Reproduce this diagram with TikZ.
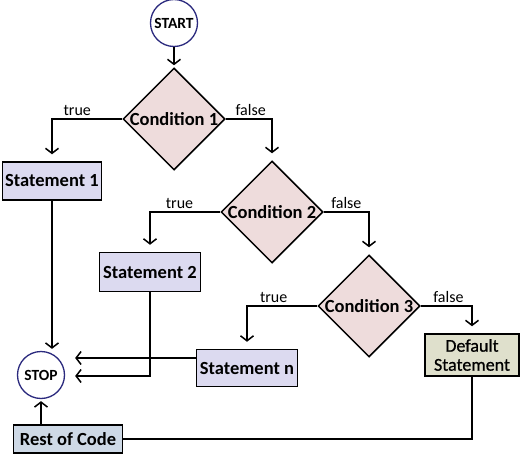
\documentclass[tikz,border=0pt]{standalone}
\usepackage{fontspec}
\setmainfont{Carlito}
\usepackage{tikz}
\usetikzlibrary{arrows.meta}
\usetikzlibrary{shapes.geometric}
\definecolor{startnavy}{RGB}{43, 42, 126}
\definecolor{condpink}{RGB}{238, 220, 220}
\definecolor{stmtlilac}{RGB}{220, 218, 240}
\definecolor{defaultkhaki}{RGB}{223, 224, 204}
\definecolor{restblue}{RGB}{206, 217, 230}

\tikzset{
    flowline/.style={line width=1.5pt, black},
    flowarrow/.style={flowline, -{Straight Barb[length=5pt, width=13pt, line width=1.5pt]}, shorten >=2pt},
    branch/.style={flowarrow, shorten >=7pt},
    terminal/.style={circle, draw=startnavy, line width=1.3pt, fill=white, minimum size=47pt,
                     inner sep=0pt, font=\bfseries\fontsize{15.5}{17}\selectfont},
    condition/.style={diamond, draw, line width=1.5pt, fill=condpink, minimum width=102pt,
                      minimum height=102pt, inner sep=0pt, font=\bfseries\fontsize{18.5}{21}\selectfont},
    stmtbox/.style={rectangle, draw, line width=1.5pt, fill=stmtlilac, inner sep=0pt,
                    font=\bfseries\fontsize{18.5}{21}\selectfont},
    branchlabel/.style={above, inner sep=2.5pt, font=\fontsize{16}{18}\selectfont}
}

\begin{document}
\begin{tikzpicture}[x=1pt, y=-1pt]
            \useasboundingbox (0, 0) rectangle (520, 455);
            % Start and conditions
            \node[terminal]  (start) at (174,  23) {START};
            \node[condition] (cond1) at (174, 119) {Condition 1};
            \node[condition] (cond2) at (272, 212) {Condition 2};
            \node[condition] (cond3) at (369, 306) {Condition 3};
            % Statements
            \node[stmtbox, minimum width=99pt,  minimum height=38pt] (stmt1) at ( 52, 181) {Statement 1};
            \node[stmtbox, minimum width=101pt, minimum height=39pt] (stmt2) at (150, 272) {Statement 2};
            \node[stmtbox, minimum width=101pt, minimum height=37pt] (stmtn) at (247, 368) {Statement n};
            \node[stmtbox, fill=defaultkhaki, minimum width=94pt, minimum height=42pt, align=center,
                  font=\fontsize{18}{19}\selectfont\addfontfeature{FakeBold=0.8}]
                                                                     (dflt)  at (472, 355) {Default\\Statement};
            % Stop and rest
            \node[terminal]  (stop)  at ( 41, 375) {STOP};
            \node[stmtbox, fill=restblue, minimum width=109pt, minimum height=28pt] (rest) at (68, 439) {Rest of Code};

            % Connectors
            \draw[flowarrow] (start) -- (cond1);
            \draw[branch] (cond1.west) -| node[branchlabel, pos=0.32] {true}  (stmt1.north);
            \draw[branch] (cond1.east) -| node[branchlabel, pos=0.27] {false} (cond2.north);
            \draw[branch] (cond2.west) -| node[branchlabel, pos=0.29] {true}  (stmt2.north);
            \draw[branch] (cond2.east) -| node[branchlabel, pos=0.25] {false} (cond3.north);
            \draw[branch] (cond3.west) -| node[branchlabel, pos=0.31] {true}  (stmtn.north);
            \draw[branch] (cond3.east) -| node[branchlabel, pos=0.27] {false} (dflt.north);
            % Into stop
            \draw[flowarrow] (stmt1.south) -- (stmt1.south |- stop.north);
            \draw[flowarrow, shorten >=10pt] ([yshift=10pt]stmtn.west) -- ([yshift=10pt]stmtn.west -| stop.east);
            \draw[flowarrow, shorten >=10pt] (stmt2.south) |- ([yshift=-1pt]stop.east);
            \draw[flowline] (dflt.south) |- (rest.east);
            \draw[flowarrow] (rest.north -| stop) -- (stop.south);
        \end{tikzpicture}
\end{document}
